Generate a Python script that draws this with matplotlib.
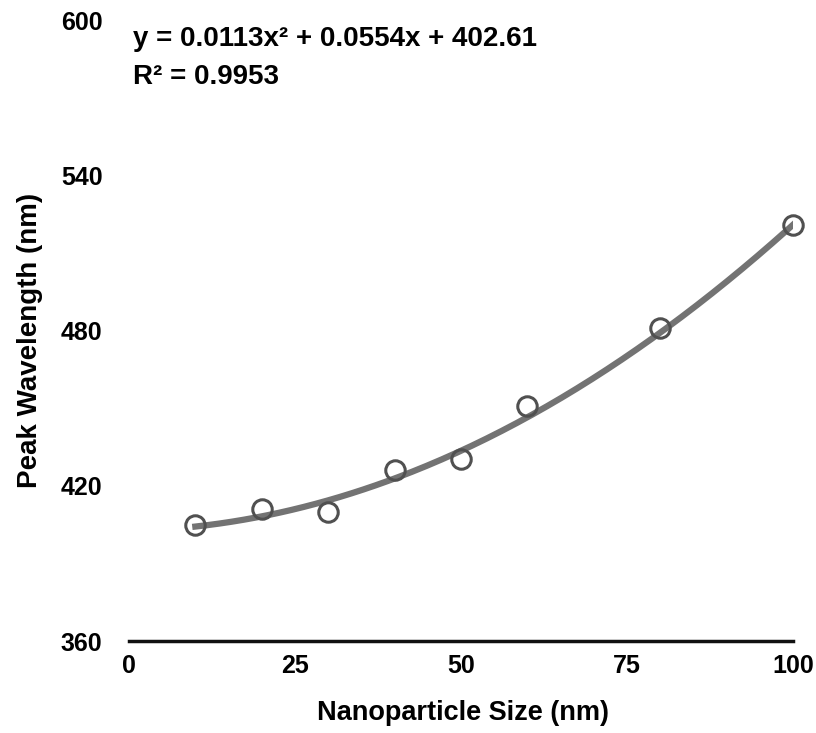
import numpy as np
import matplotlib
matplotlib.use("Agg")
import matplotlib.pyplot as plt

# data
sizes = [10, 20, 30, 40, 50, 60, 80, 100]
peaks = [405, 411, 410, 426, 430.5, 451, 481, 521]
fit_coef = [0.0113, 0.0554, 402.61]
y_ticks = [360, 420, 480, 540, 600]
x_ticks = [0, 25, 50, 75, 100]

plt.rcParams['font.family'] = ['Liberation Sans', 'DejaVu Sans']

fig = plt.figure(figsize=(8.16, 7.33), dpi=100)
ax = fig.add_axes([0.158, 0.1255, 0.814, 0.846])

xs = np.linspace(min(sizes), max(sizes), 200)
ax.plot(xs, np.polyval(fit_coef, xs), '-', color='#737373', linewidth=4.5, zorder=2)
ax.plot(sizes, peaks, 'o', markersize=14, markerfacecolor='none',
        markeredgecolor='#505050', markeredgewidth=2.2, zorder=3, clip_on=False)

ax.set_xlim(0, 100)
ax.set_ylim(360, 600)
ax.set_xticks(x_ticks)
ax.set_yticks(y_ticks)
ax.tick_params(length=0, labelsize=18)
ax.tick_params(axis='x', pad=9)
ax.tick_params(axis='y', pad=19)
for lab in ax.get_xticklabels() + ax.get_yticklabels():
    lab.set_fontweight('bold')

for s in ['top', 'right', 'left']:
    ax.spines[s].set_visible(False)
ax.spines['bottom'].set_linewidth(2.5)
ax.spines['bottom'].set_color('#111111')

ax.set_xlabel('Nanoparticle Size (nm)', fontsize=19.5, fontweight='bold', va='top')
ax.xaxis.set_label_coords(0.503, -0.095)
ax.set_ylabel('Peak Wavelength (nm)', fontsize=20, fontweight='bold', va='center')
ax.yaxis.set_label_coords(-0.149, 0.485)

fig.text(0.163, 0.947, 'y = 0.0113x² + 0.0554x + 402.61', fontsize=20,
         fontweight='bold', va='center')
fig.text(0.163, 0.895, 'R² = 0.9953', fontsize=20, fontweight='bold', va='center')

plt.savefig('out.png', dpi=100)
